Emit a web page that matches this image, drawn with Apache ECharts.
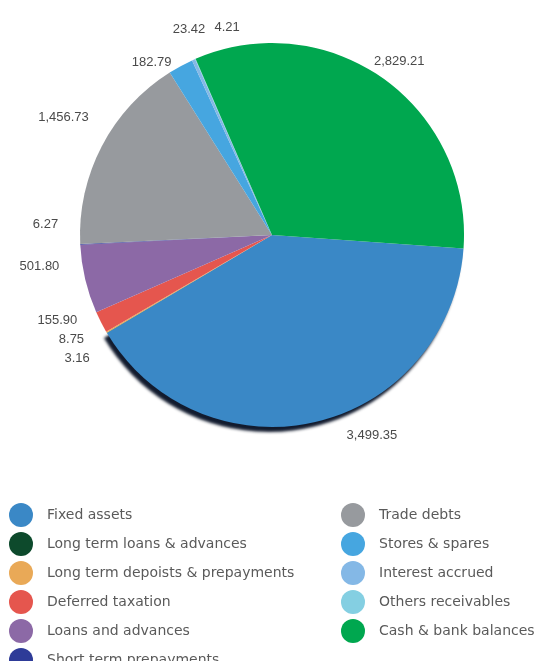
<!DOCTYPE html>
<html>
<head>
<meta charset="utf-8">
<script src="https://cdn.jsdelivr.net/npm/echarts@6/dist/echarts.min.js"></script>
<style>
  html, body { margin: 0; padding: 0; background: #fff; }
  #chart { width: 545px; height: 661px; }
</style>
</head>
<body>
<div id="chart"></div>
<script>
// Asset composition (values as labelled on the pie)
const categories = [
  'Fixed assets',
  'Long term loans & advances',
  'Long term depoists & prepayments',
  'Deferred taxation',
  'Loans and advances',
  'Short term prepayments',
  'Trade debts',
  'Stores & spares',
  'Interest accrued',
  'Others receivables',
  'Cash & bank balances'
];
const values = [3499.35, 3.16, 8.75, 155.90, 501.80, 6.27, 1456.73, 182.79, 23.42, 4.21, 2829.21];
const sliceColors = [
  '#3a88c6', '#0d4a2c', '#e9a957', '#e5564e', '#8c69a6', '#2e3b98',
  '#979a9e', '#46a6e0', '#84b8e6', '#84cfe2', '#00a74f'
];
const legendLeft = categories.slice(0, 6);
const legendRight = categories.slice(6);

const fmt = v => v.toLocaleString('en-US', { minimumFractionDigits: 2, maximumFractionDigits: 2 });

const chart = echarts.init(document.getElementById('chart'), null, { renderer: 'canvas' });

const data = categories.map((name, i) => {
  const item = { name, value: values[i], itemStyle: { color: sliceColors[i] } };
  if (i === 0) {
    // dark rim along the lower edge
    item.itemStyle.shadowColor = 'rgba(5,15,35,0.95)';
    item.itemStyle.shadowBlur = 3;
    item.itemStyle.shadowOffsetX = -3;
    item.itemStyle.shadowOffsetY = 5;
  }
  return item;
});

const legendCommon = {
  orient: 'vertical',
  icon: 'circle',
  itemWidth: 24,
  itemHeight: 24,
  itemGap: 5,
  height: 300,
  selectedMode: false,
  textStyle: { color: '#5a5a5a', fontSize: 14, fontFamily: 'DejaVu Sans, sans-serif', padding: [0, 0, 0, 9] }
};

// small nudges for the crowded labels
const labelShift = {
  0: { dx: 22, dy: 0 },
  3: { dx: -2, dy: -8 },
  2: { dx: 0, dy: -4 },
  4: { dx: -10, dy: -16 },
  5: { dx: -8, dy: -21 },
  6: { dx: 0, dy: -22 },
  7: { dx: 33, dy: -14 },
  8: { dx: 47, dy: -32 },
  9: { dx: 55, dy: -19 },
  10: { dx: -22, dy: -5 }
};

chart.setOption({
  animation: false,
  legend: [
    Object.assign({ left: 4, top: 498, data: legendLeft }, legendCommon),
    Object.assign({ left: 336, top: 498, data: legendRight }, legendCommon)
  ],
  series: [{
    type: 'pie',
    center: [272, 235],
    radius: [0, 192],
    startAngle: -4,
    clockwise: true,
    data: data,
    label: {
      show: true,
      position: 'outside',
      color: '#4a4a4a',
      fontSize: 13,
      fontFamily: 'Liberation Sans, Arial, sans-serif',
      formatter: p => fmt(p.value)
    },
    labelLine: { show: false, length: 14, length2: 0 },
    labelLayout: p => labelShift[p.dataIndex] || {},
    emphasis: { disabled: true }
  }]
});
</script>
</body>
</html>
